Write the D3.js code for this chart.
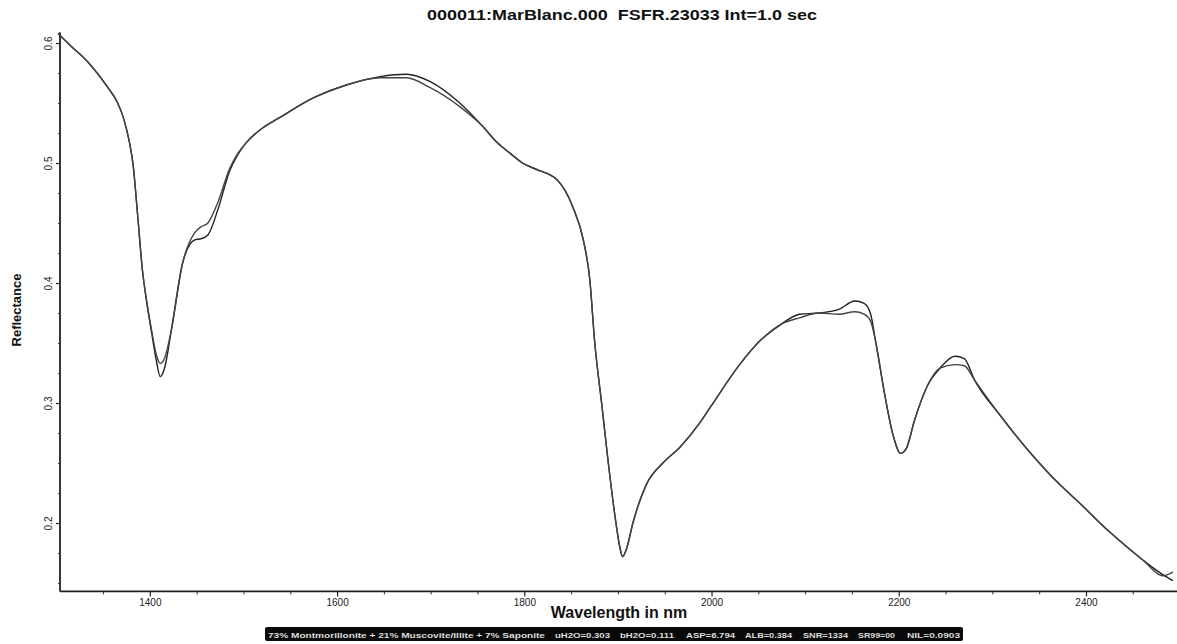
<!DOCTYPE html>
<html><head><meta charset="utf-8">
<script src="https://cdn.jsdelivr.net/npm/d3@7"></script>
<style>body{margin:0;background:#fff}svg{display:block}</style>
</head><body><svg id="c" width="1177" height="644"></svg>
<script>
const wavelengths = [1302,1315,1334,1355,1365,1372,1378,1382,1387,1392,1397,1402,1407,1411,1416,1423,1435,1448,1455,1462,1473,1485,1494,1503,1512,1520,1539,1574,1610,1646,1674,1699,1731,1755,1771,1785,1798,1812,1835,1852,1863,1870,1875,1883,1889,1897,1902,1905,1909,1916,1931,1948,1966,1988,2000,2030,2052,2075,2094,2115,2136,2153,2163,2170,2175,2185,2194,2202,2208,2217,2231,2244,2260,2270,2281,2308,2340,2372,2390,2426,2461,2482,2493];
const seriesA = [0.608,0.598,0.584,0.563,0.551,0.537,0.518,0.499,0.456,0.411,0.382,0.358,0.335,0.322,0.330,0.361,0.4167,0.436,0.437,0.440,0.462,0.493,0.507,0.517,0.524,0.529,0.538,0.554,0.565,0.572,0.574,0.568,0.550,0.531,0.517,0.508,0.500,0.495,0.486,0.463,0.436,0.4025,0.3525,0.297,0.255,0.205,0.180,0.172,0.178,0.200,0.233,0.250,0.263,0.284,0.298,0.332,0.352,0.366,0.374,0.375,0.378,0.385,0.383,0.374,0.3525,0.307,0.273,0.258,0.262,0.286,0.315,0.329,0.339,0.337,0.319,0.290,0.259,0.232,0.219,0.192,0.169,0.157,0.152];
const seriesB = [0.608,0.598,0.584,0.563,0.551,0.537,0.518,0.499,0.456,0.411,0.383,0.360,0.340,0.333,0.338,0.361,0.4167,0.442,0.447,0.450,0.468,0.495,0.508,0.517,0.524,0.529,0.538,0.554,0.565,0.571,0.571,0.563,0.547,0.531,0.517,0.508,0.500,0.495,0.486,0.463,0.436,0.4025,0.3525,0.297,0.255,0.205,0.180,0.172,0.178,0.200,0.233,0.250,0.263,0.284,0.298,0.332,0.352,0.366,0.371,0.375,0.374,0.376,0.374,0.368,0.3525,0.307,0.273,0.258,0.262,0.286,0.315,0.329,0.332,0.331,0.319,0.290,0.259,0.232,0.219,0.192,0.169,0.156,0.159];
const xTicks = [1400,1600,1800,2000,2200,2400];
const yTicks = [0.2,0.3,0.4,0.5,0.6];
const title = "000011:MarBlanc.000  FSFR.23033 Int=1.0 sec";
const xLabel = "Wavelength in nm";
const yLabel = "Reflectance";
const footerItems = ["73% Montmorillonite + 21% Muscovite/Illite + 7% Saponite","uH2O=0.303","bH2O=0.111","ASP=6.794","ALB=0.384","SNR=1334","SR99=00","NIL=0.0903"];
const footerX = [268,555,620,686,745,803,858,907];
const footerW = [277,55,54,49,47,45,37,53];

const svg = d3.select("#c");
const x = d3.scaleLinear().domain([1304, 2500]).range([60, 1179.6]);
const y = d3.scaleLinear().domain([0.2, 0.6]).range([523, 43]);
const y0 = y(0.143), yTop = y(0.609);
const font = "Arial, 'Liberation Sans', sans-serif";

// Title
svg.append("text").attr("x", 622).attr("y", 20).attr("text-anchor","middle")
  .style("white-space","pre").attr("font-family",font).attr("font-weight","bold")
  .attr("font-size",14).attr("textLength",390).attr("lengthAdjust","spacingAndGlyphs")
  .attr("fill","#111").text(title);

// X axis
const gx = svg.append("g").attr("transform",`translate(0,${y0})`);
gx.call(d3.axisBottom(x).tickValues(xTicks).tickSize(5).tickPadding(3).tickFormat(d3.format("d")));
gx.select(".domain").remove();
gx.selectAll("text").attr("font-family",font).attr("font-size",10).attr("fill","#222");
gx.selectAll("line").attr("stroke","#222").attr("stroke-width",1.2);
const minorX = d3.range(1350, 2500, 50).filter(v => !xTicks.includes(v));
const gxm = svg.append("g").attr("transform",`translate(0,${y0})`);
gxm.call(d3.axisBottom(x).tickValues(minorX).tickSize(3).tickFormat(""));
gxm.select(".domain").remove();
gxm.selectAll("line").attr("stroke","#333");
svg.append("line").attr("x1",x(1304)).attr("x2",1177).attr("y1",y0).attr("y2",y0)
  .attr("stroke","#222").attr("stroke-width",1.8);

// Y axis
const gy = svg.append("g").attr("transform",`translate(${x(1304)},0)`);
gy.call(d3.axisLeft(y).tickValues(yTicks).tickSize(4).tickFormat(d3.format(".1f")));
gy.select(".domain").remove();
gy.selectAll("line").attr("stroke","#222").attr("stroke-width",1.2);
gy.selectAll("text").attr("x",0).attr("y",-8).attr("dy",0).attr("text-anchor","middle")
  .attr("transform","rotate(-90)").attr("font-family",font).attr("font-size",10).attr("fill","#222");
const minorY = d3.range(0.15, 0.61, 0.025).map(v => +v.toFixed(3)).filter(v => !yTicks.some(t => Math.abs(t - v) < 1e-6));
const gym = svg.append("g").attr("transform",`translate(${x(1304)},0)`);
gym.call(d3.axisLeft(y).tickValues(minorY).tickSize(2).tickFormat(""));
gym.select(".domain").remove();
gym.selectAll("line").attr("stroke","#444");
svg.append("line").attr("x1",x(1304)).attr("x2",x(1304)).attr("y1",yTop).attr("y2",y0)
  .attr("stroke","#222").attr("stroke-width",1.8);

// Axis labels
svg.append("text").attr("x",619).attr("y",618).attr("text-anchor","middle")
  .attr("font-family",font).attr("font-weight","bold").attr("font-size",16).attr("fill","#111").text(xLabel);
svg.append("text").attr("transform","translate(21,310) rotate(-90)").attr("text-anchor","middle")
  .attr("font-family",font).attr("font-weight","bold").attr("font-size",13).attr("fill","#111").text(yLabel);

// Curves
const line = d3.line().x(d => x(d[0])).y(d => y(d[1])).curve(d3.curveMonotoneX);
[seriesA, seriesB].forEach((s, i) => {
  svg.append("path").datum(wavelengths.map((w, j) => [w, s[j]]))
    .attr("d", line).attr("fill","none")
    .attr("stroke", i === 0 ? "#222" : "#444").attr("stroke-width",1.4);
});

// Footer box
svg.append("rect").attr("x",265).attr("y",627).attr("width",698).attr("height",14)
  .attr("rx",2).attr("fill","#0a0a0a");
footerItems.forEach((t, i) => {
  svg.append("text").attr("x",footerX[i]).attr("y",637.5)
    .attr("font-family",font).attr("font-size",7).attr("font-weight","bold")
    .attr("fill","#ddd").attr("textLength",footerW[i]).attr("lengthAdjust","spacingAndGlyphs").text(t);
});
</script></body></html>
